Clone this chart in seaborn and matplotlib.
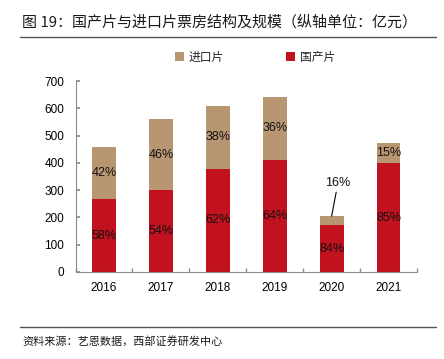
import numpy as np
import pandas as pd
import matplotlib
matplotlib.use("Agg")
import matplotlib.pyplot as plt
from matplotlib.patches import Patch
from matplotlib.lines import Line2D
import seaborn as sns

years = ["2016", "2017", "2018", "2019", "2020", "2021"]
domestic = [266.6, 301.0, 379.0, 411.8, 170.9, 399.3]   # 国产片, 亿元
imported = [190.5, 258.1, 230.8, 230.9, 33.5, 73.3]     # 进口片, 亿元
dom_pct = ["58%", "54%", "62%", "64%", "84%", "85%"]
imp_pct = ["42%", "46%", "38%", "36%", "16%", "15%"]

RED = "#C2111F"
TAN = "#B99672"

sns.set_theme(style="white")
plt.rcParams["font.family"] = ["Liberation Sans", "Noto Sans CJK SC", "DejaVu Sans"]

df = pd.DataFrame({"year": years, "domestic": domestic, "imported": imported})
df["total"] = df["domestic"] + df["imported"]

fig = plt.figure(figsize=(4.44, 3.59), dpi=100)
ax = fig.add_axes([75.5 / 444, 1 - 272 / 359, (417 - 75.5) / 444, (272 - 81) / 359])

# totals first (tan), domestic drawn over them (red)
sns.barplot(data=df, x="year", y="total", color=TAN, width=0.42,
            saturation=1, linewidth=0, ax=ax)
sns.barplot(data=df, x="year", y="domestic", color=RED, width=0.42,
            saturation=1, linewidth=0, ax=ax)

ax.set_xlim(-0.5, 5.5)
ax.set_ylim(0, 700)
ax.set_yticks(range(0, 701, 100))
ax.set_xlabel("")
ax.set_ylabel("")

for s in ["top", "right"]:
    ax.spines[s].set_visible(False)
for s in ["left", "bottom"]:
    ax.spines[s].set_color("#8c8c8c")
    ax.spines[s].set_linewidth(0.8)

ax.tick_params(axis="y", direction="in", length=3, color="#8c8c8c",
               labelsize=8.5, labelcolor="black", pad=8, left=True)
ax.tick_params(axis="x", which="major", length=0, labelsize=8.5,
               labelcolor="black", pad=7)
ax.set_xticks(np.arange(-0.5, 6, 1), minor=True)
ax.tick_params(axis="x", which="minor", direction="in", length=3,
               color="#8c8c8c", bottom=True)

lab_font = dict(fontsize=9, color="#111111", ha="center", va="center",
                family="Liberation Sans")
for i in range(len(years)):
    d = df["domestic"][i]
    t = df["total"][i]
    ax.text(i, d / 2, dom_pct[i], **lab_font)
    if years[i] == "2020":
        ax.text(i + 0.1, t + 120, imp_pct[i], **lab_font)
        # leader line from under the label down to the bar top
        ax.annotate("", xy=(i, t), xytext=(i + 0.08, t + 88),
                    arrowprops=dict(arrowstyle="-", color="black", lw=0.8,
                                    shrinkA=0, shrinkB=0))
    else:
        ax.text(i, d + (t - d) / 2, imp_pct[i], **lab_font)

handles = [Patch(facecolor=TAN, edgecolor="none", label="进口片"),
           Patch(facecolor=RED, edgecolor="none", label="国产片")]
fig.legend(handles=handles, loc="center left",
           bbox_to_anchor=(170 / 444, 1 - 57 / 359), ncol=2, frameon=False,
           prop={"family": "Noto Sans CJK SC", "size": 8.5},
           handlelength=0.8, handleheight=0.8, handletextpad=0.4,
           columnspacing=5.2, borderaxespad=0)

fig.text(22 / 444, 1 - 22 / 359, "图 19：国产片与进口片票房结构及规模（纵轴单位：亿元）",
         fontsize=10.8, family="Noto Sans CJK SC", va="center", ha="left",
         color="#1a1a1a")
fig.add_artist(Line2D([20 / 444, 436 / 444], [1 - 37 / 359, 1 - 37 / 359],
                      color="#555555", lw=1))
fig.add_artist(Line2D([20 / 444, 436 / 444], [1 - 327 / 359, 1 - 327 / 359],
                      color="#555555", lw=1))
fig.text(22 / 444, 1 - 341 / 359, "资料来源：艺恩数据，西部证券研发中心",
         fontsize=8, family="Noto Sans CJK SC", va="center", ha="left",
         color="#1a1a1a")

fig.savefig("out.png", dpi=100)
